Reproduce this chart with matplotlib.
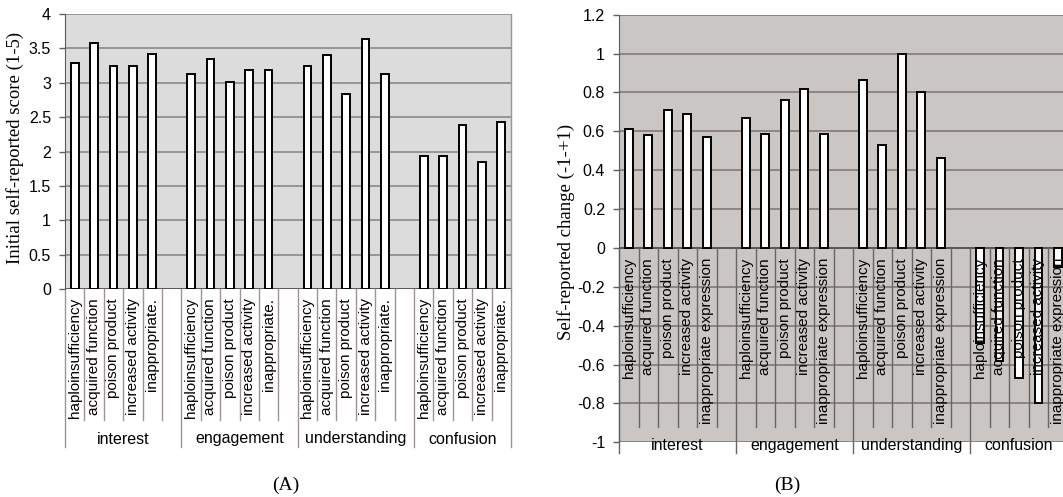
import numpy as np
import matplotlib
matplotlib.use("Agg")
import matplotlib.pyplot as plt
from matplotlib.transforms import blended_transform_factory

plt.rcParams['font.family'] = ['Liberation Sans', 'DejaVu Sans']

groups = ["interest", "engagement", "understanding", "confusion"]
labels_a = ["haploinsufficiency", "acquired function", "poison product",
            "increased activity", "inappropriate."]
labels_b = ["haploinsufficiency", "acquired function", "poison product",
            "increased activity", "inappropriate expression"]

# panel A: initial self-reported score (1-5)
initial_score = [
    [3.29, 3.58, 3.24, 3.24, 3.42],   # interest
    [3.13, 3.34, 3.01, 3.19, 3.19],   # engagement
    [3.25, 3.40, 2.83, 3.64, 3.13],   # understanding
    [1.93, 1.94, 2.38, 1.85, 2.43],   # confusion
]
# panel B: self-reported change (-1..+1)
change_score = [
    [0.61, 0.58, 0.71, 0.69, 0.57],
    [0.67, 0.585, 0.76, 0.82, 0.585],
    [0.865, 0.53, 1.0, 0.80, 0.465],
    [-0.49, -0.58, -0.67, -0.80, -0.10],
]

W, H = 1063, 497
fig = plt.figure(figsize=(W / 100, H / 100), dpi=100)
fig.patch.set_facecolor("white")


def rect(l, t, r, b):
    return [l / W, 1 - b / H, (r - l) / W, (b - t) / H]


def fy(py):
    return 1 - py / H


def slot_positions():
    xs = []
    for g in range(len(groups)):
        for j in range(5):
            xs.append(g * 6 + j + 0.5)
    return np.array(xs)


def fmt(t):
    if abs(t) < 1e-9:
        return "0"
    return "%g" % t


def draw_panel(ax, values, names, ylim, step, bg, grid_col, sep_col,
               lab_top, sep_bot, grp_bot, grp_y, zero_top):
    xs = slot_positions()
    vals = np.array(values).ravel()
    ax.set_facecolor(bg)
    ax.set_xlim(0, 23)
    ax.set_ylim(*ylim)
    ticks = np.round(np.arange(ylim[0], ylim[1] + step / 2, step), 2)
    ax.set_yticks(ticks)
    ax.set_yticklabels([fmt(t) for t in ticks], fontsize=11.5)
    ax.set_xticks([])
    ax.tick_params(axis='y', length=4, width=1, pad=6, color="#606060")
    ax.set_axisbelow(True)
    ax.yaxis.grid(True, color=grid_col, linewidth=1.1)
    for s in ["top", "bottom", "right"]:
        ax.spines[s].set_visible(False)
    ax.spines["left"].set_color("#5a5a5a")
    ax.axhline(0, color="#4a4a4a", linewidth=1.1, zorder=2)

    ax.bar(xs, vals, width=0.4, color="white", edgecolor="black",
           linewidth=1.4, zorder=3)

    tr = blended_transform_factory(ax.transData, fig.transFigure)
    for k, x in enumerate(xs):
        ax.text(x, fy(lab_top), names[k % 5], rotation=90, ha='center',
                va='top', fontsize=11, transform=tr, clip_on=False, zorder=4)
    for b in range(1, 23):
        if b in (6, 12, 18):
            continue
        ax.plot([b, b], [fy(zero_top), fy(sep_bot)], color=sep_col,
                linewidth=1, transform=tr, clip_on=False, zorder=2)
    for b in (0, 6, 12, 18, 23):
        ax.plot([b, b], [fy(zero_top), fy(grp_bot)], color=sep_col,
                linewidth=1, transform=tr, clip_on=False, zorder=2)
    for g, name in enumerate(groups):
        end = 23 if g == 3 else g * 6 + 6
        ax.text((g * 6 + end) / 2, fy(grp_y), name, ha='center', va='center',
                fontsize=11.5, transform=tr, clip_on=False, zorder=4)


axA = fig.add_axes(rect(65, 14, 511, 289))
draw_panel(axA, initial_score, labels_a, (0, 4), 0.5, "#dcdcdc", "#8a807b",
           "#9f948f", 298, 420, 447, 439, 289)
axA.plot([23, 23], [fy(14), fy(289)], color="#9f948f", linewidth=1,
         transform=blended_transform_factory(axA.transData, fig.transFigure),
         clip_on=False)

axB = fig.add_axes(rect(619, 14.7, 1067.7, 442.3))
draw_panel(axB, change_score, labels_b, (-1, 1.2), 0.2, "#c9c6c4", "#7d736e",
           "#6a6462", 258, 427, 453, 445.5, 247.7)

serif = ['Liberation Serif', 'DejaVu Serif']
fig.text(15 / W, fy(148), "Initial self-reported score (1-5)", rotation=90,
         ha='center', va='center', fontsize=13.5, family=serif)
fig.text(566 / W, fy(232), "Self-reported change (-1-+1)", rotation=90,
         ha='center', va='center', fontsize=13.5, family=serif)
fig.text(286 / W, fy(485), "(A)", ha='center', va='center', fontsize=14,
         family=serif)
fig.text(787 / W, fy(485), "(B)", ha='center', va='center', fontsize=14,
         family=serif)

fig.savefig("out.png", dpi=100, facecolor="white")
